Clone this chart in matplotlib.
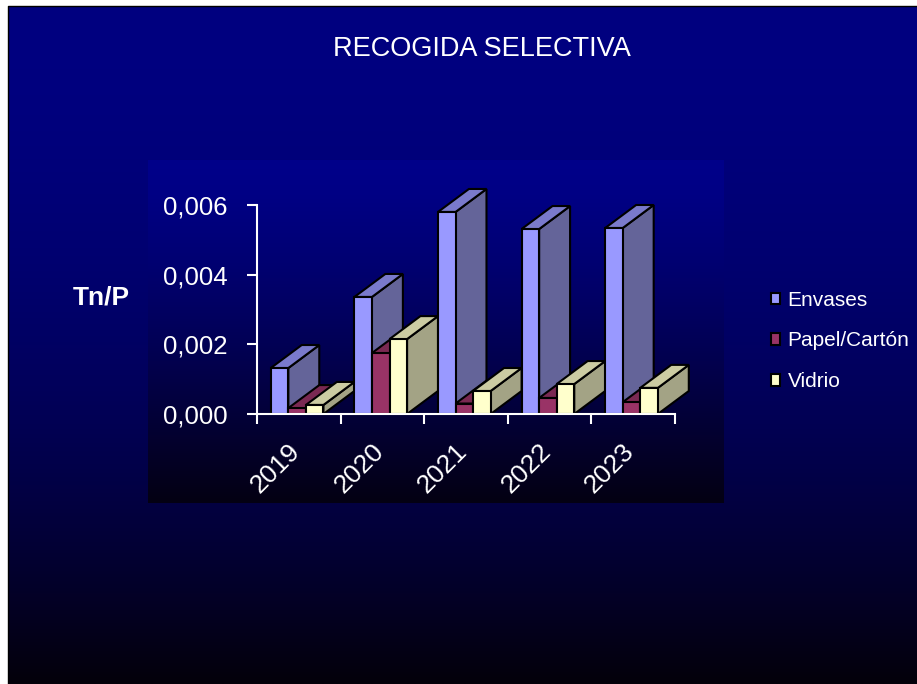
import numpy as np
import matplotlib.pyplot as plt
from matplotlib.patches import Polygon, Patch
from matplotlib.transforms import offset_copy

plt.rcParams['font.family'] = ['Liberation Sans', 'DejaVu Sans']

# --- data ---
years = ['2019', '2020', '2021', '2022', '2023']
series = ['Envases', 'Papel/Cartón', 'Vidrio']
envases = [0.00132, 0.00336, 0.00580, 0.00531, 0.00534]
papel = [0.00017, 0.00175, 0.00030, 0.00046, 0.00034]
vidrio = [0.00026, 0.00215, 0.00066, 0.00086, 0.00075]
yticks = [0.000, 0.002, 0.004, 0.006]

# front, top, side colours for each series
colors = [
    ('#9999ff', '#7a7acc', '#646499'),
    ('#993366', '#7a2952', '#6b2447'),
    ('#ffffcc', '#cccca3', '#a3a385'),
]

W, H = 917, 684
fig = plt.figure(figsize=(W / 100, H / 100), dpi=100, facecolor='white')

# --- background (slide + plot area gradients) ---
bg = fig.add_axes([0, 0, 1, 1])
bg.set_xlim(0, W)
bg.set_ylim(H, 0)
bg.axis('off')

t = np.linspace(0, 1, 400)[:, None]
navy = np.array([0, 0, 128]) / 255
dark = np.array([4, 1, 10]) / 255
f = (1 - t ** 2)[..., None]
slide = dark + (navy - dark) * f
slide = np.repeat(slide, 2, axis=1)
bg.imshow(slide, extent=[8, W, H, 6], aspect='auto', interpolation='bilinear', zorder=0)
bg.plot([8, 8, W], [H, 6, 6], color='black', lw=1, zorder=1)

navy2 = np.array([0, 0, 138]) / 255
dark2 = np.array([4, 0, 18]) / 255
f2 = (1 - t ** 1.3)[..., None]
area = dark2 + (navy2 - dark2) * f2
area = np.repeat(area, 2, axis=1)
bg.imshow(area, extent=[148, 724, 503, 160], aspect='auto', interpolation='bilinear', zorder=1)

# --- chart axes ---
ax = fig.add_axes([257 / W, 1 - 414 / H, 418 / W, 209 / H])
ax.patch.set_alpha(0)
ax.set_xlim(0, len(years))
ax.set_ylim(0, 0.006)

bw = 0.21
start = 0.165
dx = 0.37
dy = 23 / 209 * 0.006

data = [envases, papel, vidrio]
for i in range(len(years)):
    for j, vals in enumerate(data):
        h = vals[i]
        x0 = i + start + j * bw
        x1 = x0 + bw
        front_c, top_c, side_c = colors[j]
        faces = [
            ([(x1, 0), (x1 + dx, dy), (x1 + dx, h + dy), (x1, h)], side_c),
            ([(x0, h), (x1, h), (x1 + dx, h + dy), (x0 + dx, h + dy)], top_c),
            ([(x0, 0), (x1, 0), (x1, h), (x0, h)], front_c),
        ]
        for pts, c in faces:
            ax.add_patch(Polygon(pts, closed=True, facecolor=c, edgecolor='black',
                                 lw=1.5, joinstyle='miter', clip_on=False, zorder=1))

for s in ['top', 'right']:
    ax.spines[s].set_visible(False)
for s in ['left', 'bottom']:
    ax.spines[s].set_color('white')
    ax.spines[s].set_linewidth(1.5)
    ax.spines[s].set_zorder(3)

ax.set_yticks(yticks)
ax.set_yticklabels([f'{v:.3f}'.replace('.', ',') for v in yticks])
ax.tick_params(axis='y', colors='white', labelsize=18.5, length=7, width=1.5, pad=14)
ax.set_xticks(range(len(years) + 1))
ax.set_xticklabels([])
ax.tick_params(axis='x', colors='white', length=7, width=1.5)

lab_tr = offset_copy(ax.transData, fig=fig, x=6, y=-25, units='dots')
for i, yr in enumerate(years):
    ax.text(i + 0.5, 0, yr, transform=lab_tr, rotation=45, ha='right', va='top',
            color='white', fontsize=19)

# --- texts ---
fig.text(482 / W, 1 - 49 / H, 'RECOGIDA SELECTIVA', ha='center', va='center',
         color='white', fontsize=19.5)
fig.text(73 / W, 1 - 298 / H, 'Tn/P', ha='left', va='center', color='white',
         fontsize=19, fontweight='bold')

handles = [Patch(facecolor=c[0], edgecolor='black', lw=1.5) for c in colors]
fig.legend(handles, series, loc='center left', bbox_to_anchor=(771 / W, 1 - 341 / H),
           frameon=False, fontsize=15, labelcolor='white', handlelength=0.45,
           handleheight=0.45, handletextpad=0.35, labelspacing=1.05,
           borderpad=0, borderaxespad=0)

fig.savefig('out.png', dpi=100, facecolor='white')
